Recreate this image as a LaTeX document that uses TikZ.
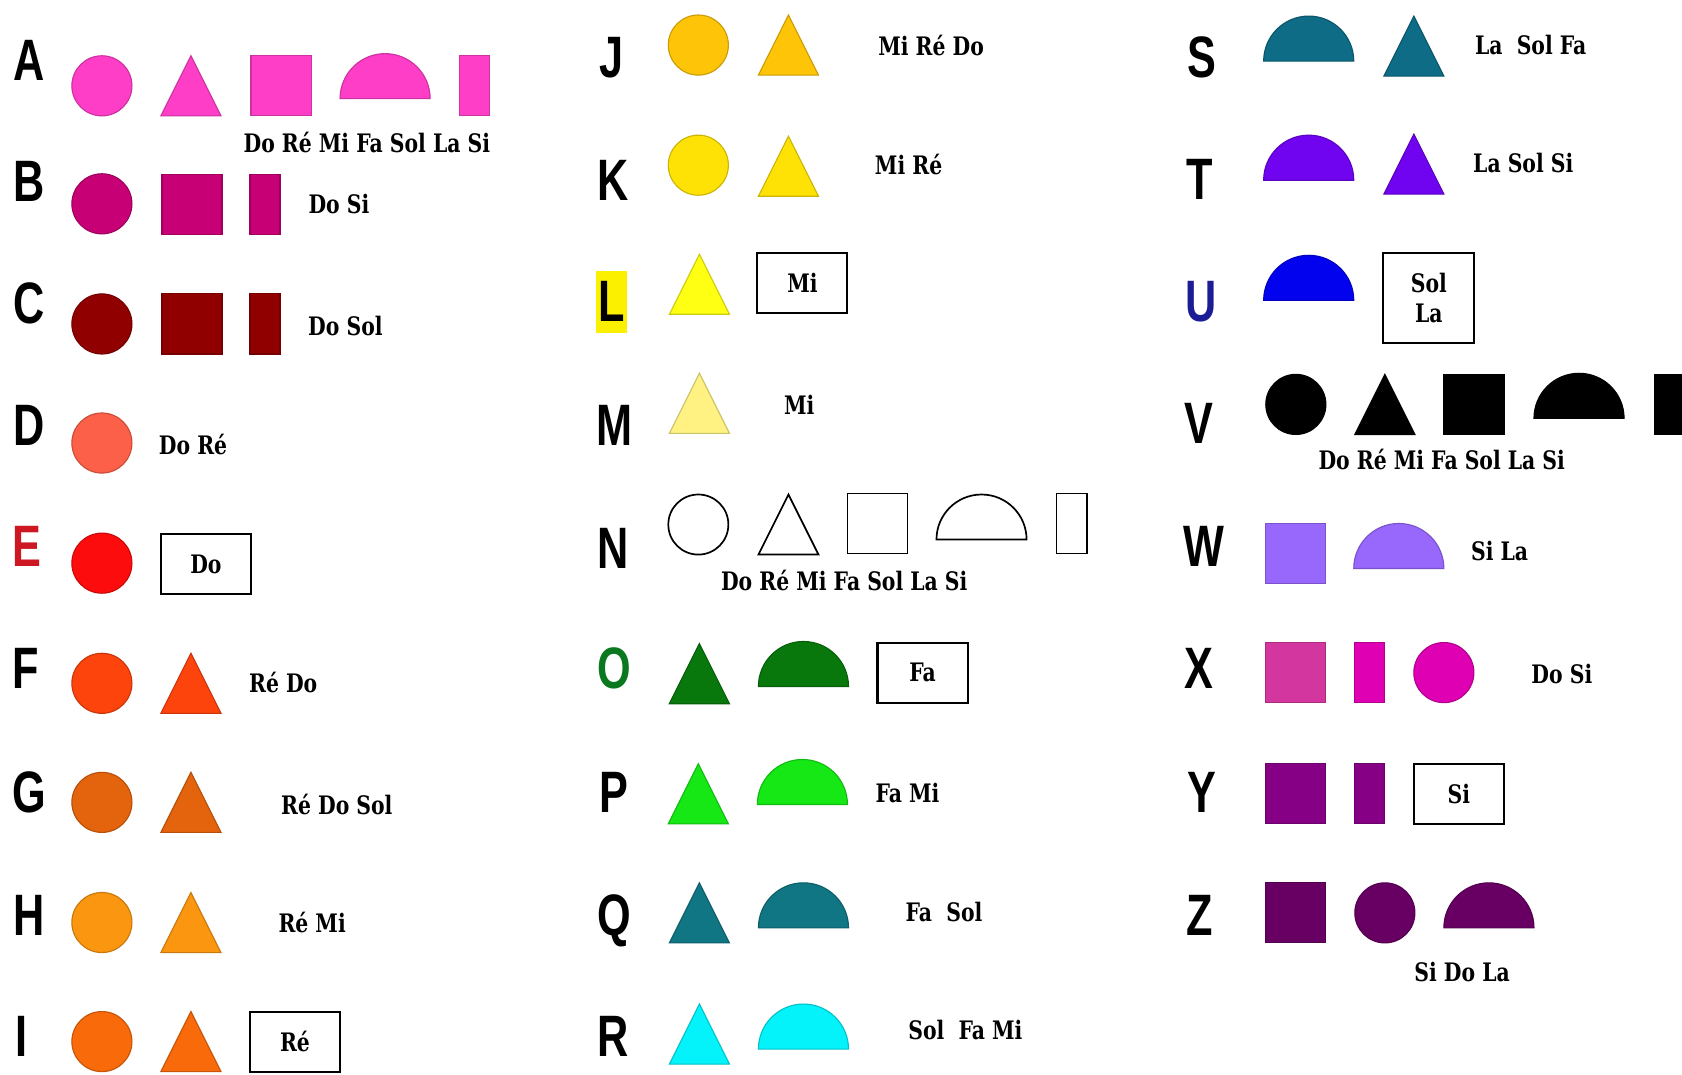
\documentclass[tikz,border=0pt]{standalone}
\usepackage{fontspec}
\setmainfont{DejaVu Serif}[FakeStretch=0.8]
\newfontfamily\letterfont{Liberation Sans}[FakeStretch=0.74]

\definecolor{pinkA}{RGB}{255,62,200}
\definecolor{magB}{RGB}{200,0,118}
\definecolor{redC}{RGB}{145,0,0}
\definecolor{salmonD}{RGB}{252,96,72}
\definecolor{redE}{RGB}{252,12,12}
\definecolor{orangeF}{RGB}{252,68,12}
\definecolor{orangeG}{RGB}{228,100,14}
\definecolor{orangeH}{RGB}{250,150,16}
\definecolor{orangeI}{RGB}{248,106,10}
\definecolor{goldJ}{RGB}{254,196,8}
\definecolor{yellowK}{RGB}{254,226,6}
\definecolor{yellowL}{RGB}{255,255,20}
\definecolor{paleM}{RGB}{255,242,130}
\definecolor{greenO}{RGB}{8,120,12}
\definecolor{greenP}{RGB}{22,232,22}
\definecolor{tealQ}{RGB}{16,118,132}
\definecolor{cyanR}{RGB}{4,242,250}
\definecolor{tealS}{RGB}{14,108,134}
\definecolor{violetT}{RGB}{112,4,240}
\definecolor{blueU}{RGB}{2,2,238}
\definecolor{lavW}{RGB}{152,104,252}
\definecolor{pinkX}{RGB}{212,54,160}
\definecolor{magX}{RGB}{222,0,178}
\definecolor{purpY}{RGB}{134,0,134}
\definecolor{purpZ}{RGB}{104,0,100}
\definecolor{letterE}{RGB}{205,24,36}
\definecolor{letterO}{RGB}{10,120,30}
\definecolor{letterU}{RGB}{28,28,150}
\definecolor{hiliteL}{RGB}{250,240,0}

\begin{document}
\begin{tikzpicture}[
    x=0.2mm, y=-0.2mm,
    letter/.style={font=\letterfont\bfseries\fontsize{31}{31}\selectfont, inner sep=0pt, anchor=base},
    notes/.style={font=\bfseries\fontsize{13.5}{16}\selectfont, inner sep=1pt, align=center},
    notebox/.style={notes, draw=black, line width=1.1pt, minimum width=16.8mm, minimum height=11.2mm},
    tint/.style={fill=#1, draw=#1!80!black, line width=0.6pt},
    hollow/.style={fill=white, draw=black, line width=0.9pt},
    disc/.pic={\path[pic actions] (0,0) circle[radius=28];},
    tri/.pic={\path[pic actions] (-28,28) -- (0,-28) -- (28,28) -- cycle;},
    sq/.pic={\path[pic actions] (-28,-28) rectangle (28,28);},
    bar/.pic={\path[pic actions] (-14,-28) rectangle (14,28);},
    semi/.pic={\path[pic actions] (-42,0) arc[start angle=180, end angle=360, radius=42] -- cycle;},
  ]
  \path[use as bounding box, fill=white] (0,0) rectangle (1568,1002);

  % letters
  \foreach \l/\x/\y/\c in {A/27/55/black, B/27/168/black, C/27/282/black, D/27/395/black,
      E/25/508/letterE, F/24/622/black, G/27/737/black, H/27/852/black, I/20/965/black,
      J/570/52/black, K/572/167/black, M/573/395/black, N/572/510/black, O/573/622/letterO,
      P/572/737/black, Q/573/852/black, R/572/965/black,
      S/1120/52/black, T/1118/166/black, U/1120/280/letterU, V/1118/393/black,
      W/1122/508/black, X/1118/622/black, Y/1120/737/black, Z/1118/852/black}{
    \node[letter, text=\c] (let\l) at (\x,\y+20) {\l};
  }
  \node[letter, fill=hiliteL, inner xsep=0.5mm, inner ysep=2mm] (letL) at (570,300) {L};

  % discs
  \foreach \x/\y/\c in {95/80/pinkA, 95/190/magB, 95/302/redC, 95/413/salmonD, 95/525/redE,
      95/637/orangeF, 95/748/orangeG, 95/860/orangeH, 95/971/orangeI,
      651/42/goldJ, 651/154/yellowK, 1208/377/black, 1346/627/magX, 1291/851/purpZ}{
    \pic[tint=\c] at (\x,\y) {disc};
  }
  % triangles
  \foreach \x/\y/\c in {178/80/pinkA, 178/637/orangeF, 178/748/orangeG, 178/860/orangeH,
      178/971/orangeI, 735/42/goldJ, 735/155/yellowK, 652/265/yellowL, 652/376/paleM,
      652/628/greenO, 651/740/greenP, 652/851/tealQ, 652/964/cyanR,
      1318/43/tealS, 1318/153/violetT, 1291/377/black}{
    \pic[tint=\c] at (\x,\y) {tri};
  }
  % squares
  \foreach \x/\y/\c in {262/80/pinkA, 179/191/magB, 179/302/redC, 1374/377/black,
      1208/516/lavW, 1208/627/pinkX, 1208/740/purpY, 1208/851/purpZ}{
    \pic[tint=\c] at (\x,\y) {sq};
  }
  % half discs
  \foreach \x/\y/\c in {359/92/pinkA, 749/640/greenO, 748/750/greenP, 749/865/tealQ,
      749/978/cyanR, 1220/57/tealS, 1220/168/violetT, 1220/280/blueU, 1472/390/black,
      1304/530/lavW, 1388/865/purpZ}{
    \pic[tint=\c] at (\x,\y) {semi};
  }
  % bars
  \foreach \x/\y/\c in {442/80/pinkA, 247/191/magB, 247/302/redC, 1556/377/black,
      1277/627/magX, 1277/740/purpY}{
    \pic[tint=\c] at (\x,\y) {bar};
  }
  % outlined set
  \pic[hollow] at (651,489) {disc};
  \pic[hollow] at (735,489) {tri};
  \pic[hollow] at (818,488) {sq};
  \pic[hollow] at (915,503) {semi};
  \pic[hollow] at (999,488) {bar};

  % note names
  \foreach \n/\x/\y/\t in {nA/342/133/Do Ré Mi Fa Sol La Si, nB/316/190/Do Si,
      nC/322/304/Do Sol, nD/180/414/Do Ré, nF/264/636/Ré Do, nG/314/750/Ré Do Sol,
      nH/291/860/Ré Mi, nJ/868/42/Mi Ré Do, nK/847/153/Mi Ré, nM/745/377/Mi,
      nN/787/541/Do Ré Mi Fa Sol La Si, nP/846/739/Fa Mi, nQ/880/850/Fa~~Sol,
      nR/900/960/Sol~~Fa Mi, nS/1427/42/La~~Sol Fa, nT/1420/152/La Sol Si,
      nV/1344/428/Do Ré Mi Fa Sol La Si, nW/1398/514/Si La, nX/1456/628/Do Si,
      nZ/1363/906/Si Do La}{
    \node[notes] (\n) at (\x,\y) {\t};
  }
  \node[notebox] (bE) at (192,526) {Do};
  \node[notebox] (bI) at (275,971) {Ré};
  \node[notebox] (bL) at (748,264) {Mi};
  \node[notebox] (bO) at (860,627) {Fa};
  \node[notebox, minimum width=17mm, minimum height=16.8mm] (bU) at (1332,278) {Sol\\La};
  \node[notebox] (bY) at (1360,740) {Si};
\end{tikzpicture}
\end{document}
